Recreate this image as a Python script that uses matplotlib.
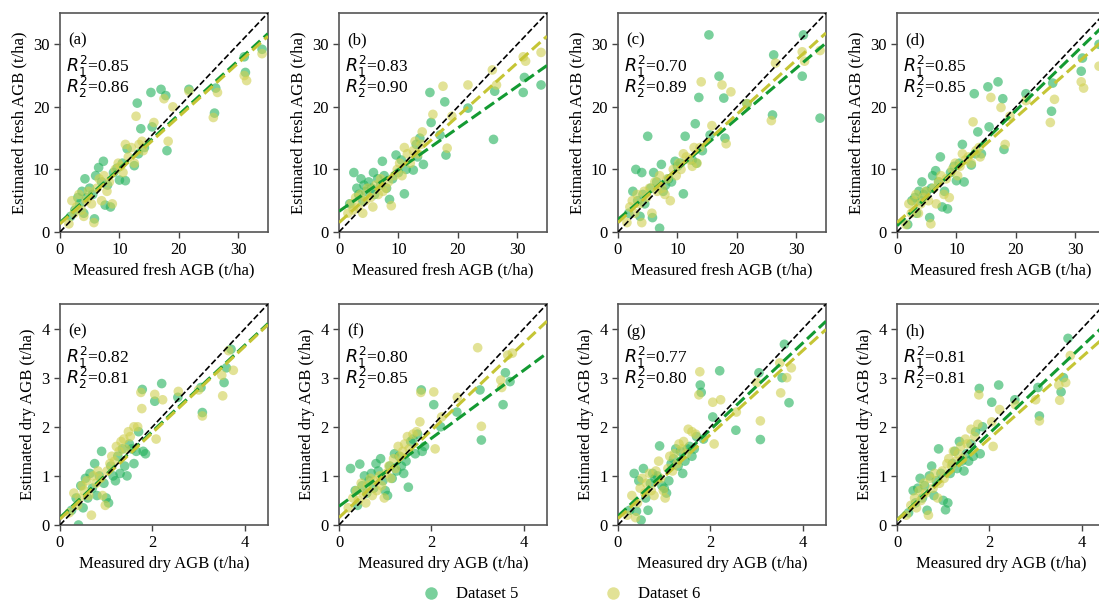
import numpy as np
import matplotlib
matplotlib.use('Agg')
import matplotlib.pyplot as plt
from matplotlib.lines import Line2D

# Valores medidos (t/ha) - mesmos para os paineis (a)-(d) e (e)-(h)
medidoFresco5 = [13.0, 15.3, 17.0, 17.8, 18.0, 21.7, 26.0, 26.2, 31.0, 31.2, 34.0, 15.5, 13.6, 14.2,
                 1.8, 2.5, 3.0, 3.3, 3.7, 4.0, 4.2, 4.5, 5.0, 5.5, 5.8, 6.0, 6.5, 7.0, 7.3, 7.6,
                 8.0, 8.5, 9.0, 9.6, 10.0, 10.5, 11.0, 11.3, 12.5, 13.2]
medidoFresco6 = [12.8, 13.3, 15.8, 17.5, 18.2, 19.0, 21.7, 25.8, 26.5, 31.0, 31.4, 34.0, 14.0, 11.0,
                 1.5, 2.0, 2.4, 2.8, 3.2, 3.6, 4.0, 4.4, 4.8, 5.3, 5.7, 6.2, 6.6, 7.0, 7.4, 7.9,
                 8.3, 8.8, 9.3, 9.8, 10.2, 10.6, 11.5, 12.0, 12.5, 13.8]
medidoSeco5 = [3.70, 3.60, 3.55, 3.08, 3.05, 2.20, 2.05, 2.55, 1.78, 1.80, 1.70, 1.85, 1.55,
               0.25, 0.35, 0.40, 0.45, 0.50, 0.55, 0.60, 0.65, 0.70, 0.75, 0.80, 0.85, 0.90, 0.95,
               1.00, 1.05, 1.10, 1.15, 1.20, 1.25, 1.30, 1.35, 1.40, 1.45, 1.50, 1.60, 1.65]
medidoSeco6 = [3.75, 3.65, 3.52, 3.50, 3.08, 3.00, 2.56, 2.05, 2.22, 1.77, 1.75, 2.08, 1.60,
               0.20, 0.30, 0.38, 0.42, 0.48, 0.52, 0.58, 0.62, 0.68, 0.72, 0.78, 0.82, 0.88, 0.92,
               0.98, 1.02, 1.08, 1.12, 1.18, 1.22, 1.28, 1.32, 1.38, 1.42, 1.48, 1.52, 1.68]

# Valores estimados por painel
estimadoA5 = [20.6, 22.3, 22.8, 21.8, 13.0, 22.8, 19.0, 23.0, 28.0, 25.5, 29.2, 16.8, 16.5, 13.5,
              2.5, 3.5, 5.5, 4.5, 6.5, 3.0, 8.5, 5.5, 7.0, 6.0, 2.1, 9.0, 10.3, 8.0, 11.3, 4.3,
              7.5, 4.0, 9.5, 10.2, 8.3, 11.0, 8.2, 13.3, 10.6, 12.5]
estimadoA6 = [18.5, 14.0, 17.5, 21.3, 14.5, 20.0, 22.5, 18.3, 22.3, 25.0, 24.2, 28.5, 13.0, 14.0,
              1.3, 5.0, 3.0, 4.0, 6.0, 3.5, 2.5, 5.0, 6.5, 4.5, 1.5, 7.0, 8.5, 5.0, 9.0, 6.5,
              8.0, 4.5, 10.0, 11.0, 10.5, 9.5, 12.0, 13.5, 11.0, 14.5]
estimadoB5 = [14.0, 22.3, 15.5, 20.8, 12.3, 19.8, 14.8, 22.5, 22.3, 24.7, 23.5, 17.5, 15.0, 10.8,
              4.5, 9.5, 7.0, 6.0, 8.5, 5.0, 7.5, 6.5, 8.0, 7.0, 9.5, 6.0, 8.5, 7.5, 11.3, 9.0,
              7.0, 5.2, 8.5, 12.3, 9.5, 11.5, 6.1, 10.0, 9.9, 12.0]
estimadoB6 = [14.5, 12.5, 18.8, 23.3, 13.4, 18.5, 23.5, 25.9, 23.5, 28.0, 27.3, 28.7, 16.0, 13.5,
              3.0, 4.5, 3.5, 5.5, 4.0, 6.0, 3.0, 5.0, 7.0, 5.5, 4.0, 7.5, 6.0, 8.5, 6.5, 7.0,
              8.0, 4.2, 9.0, 10.0, 11.0, 9.0, 12.5, 11.0, 13.0, 14.0]
estimadoC5 = [17.3, 31.5, 24.9, 21.4, 15.0, 20.5, 18.7, 28.3, 24.9, 31.5, 18.2, 15.5, 21.5, 13.0,
              3.0, 6.5, 10.0, 5.0, 2.5, 9.5, 6.0, 4.5, 15.3, 7.0, 2.3, 9.5, 8.0, 0.6, 10.8, 6.5,
              7.5, 8.5, 8.0, 11.3, 10.5, 11.0, 6.1, 15.3, 11.5, 11.0]
estimadoC6 = [13.5, 11.0, 17.0, 23.5, 14.1, 22.4, 20.5, 17.8, 27.0, 28.8, 27.3, 29.0, 24.0, 12.5,
              1.5, 4.0, 5.0, 3.0, 6.0, 4.5, 1.5, 6.5, 5.5, 7.0, 3.0, 8.0, 6.5, 9.0, 7.0, 6.0,
              8.5, 5.0, 10.0, 9.0, 11.0, 10.0, 12.0, 11.5, 10.5, 13.5]
estimadoD5 = [22.1, 23.2, 24.0, 21.3, 13.2, 22.1, 19.3, 23.8, 25.7, 27.8, 30.0, 16.8, 16.0, 12.5,
              1.2, 5.0, 5.5, 3.0, 6.5, 5.0, 8.0, 6.0, 6.5, 2.3, 7.0, 9.0, 9.8, 8.0, 12.0, 4.0,
              6.5, 3.7, 9.5, 10.5, 8.2, 11.0, 14.0, 8.0, 10.7, 12.5]
estimadoD6 = [17.6, 13.0, 21.5, 19.9, 14.0, 18.5, 21.0, 17.5, 21.2, 24.0, 23.0, 26.5, 12.0, 12.5,
              1.2, 4.5, 3.0, 5.0, 6.0, 3.0, 4.5, 5.5, 6.5, 5.0, 1.3, 7.0, 4.5, 8.0, 9.0, 6.0,
              8.5, 5.5, 10.0, 11.0, 9.0, 10.5, 11.5, 12.0, 11.0, 13.5]
estimadoE5 = [3.58, 3.20, 2.90, 2.29, 2.80, 2.88, 2.52, 2.60, 2.76, 1.50, 1.90, 1.45, 1.55,
              0.30, 0.55, 0.00, 0.80, 0.35, 0.95, 0.55, 1.05, 0.75, 1.25, 0.60, 1.00, 1.50, 0.85,
              0.55, 0.45, 1.20, 1.00, 0.90, 1.40, 1.05, 1.55, 1.20, 1.00, 1.65, 1.25, 1.50]
estimadoE6 = [3.15, 3.55, 2.63, 3.05, 2.22, 2.75, 2.72, 2.66, 2.55, 2.37, 2.70, 1.75, 2.00,
              0.25, 0.65, 0.40, 0.55, 0.80, 0.70, 0.90, 0.60, 0.20, 1.00, 0.85, 1.10, 0.95, 0.60,
              0.40, 1.10, 1.25, 1.40, 1.30, 1.60, 1.50, 1.70, 1.75, 1.55, 1.90, 1.80, 2.00]
estimadoF5 = [2.92, 3.10, 2.45, 1.73, 2.75, 2.00, 2.45, 2.30, 2.75, 1.50, 1.85, 1.60, 1.70,
              1.15, 0.70, 0.40, 1.24, 0.80, 1.00, 0.65, 0.90, 1.05, 0.75, 1.25, 1.10, 1.35, 0.90,
              0.70, 0.60, 1.20, 0.95, 1.45, 1.10, 1.40, 1.20, 1.05, 1.30, 0.77, 1.75, 1.45]
estimadoF6 = [3.50, 3.46, 2.80, 2.95, 2.01, 3.61, 2.60, 2.71, 2.20, 2.70, 2.10, 1.55, 1.85,
              0.35, 0.55, 0.70, 0.50, 0.85, 0.65, 0.45, 0.80, 0.95, 0.60, 0.90, 0.70, 1.00, 0.80,
              0.55, 1.05, 1.20, 0.95, 1.35, 1.15, 1.60, 1.40, 1.50, 1.65, 1.80, 1.55, 1.90]
estimadoG5 = [2.49, 3.68, 3.00, 1.74, 3.10, 3.14, 2.20, 1.93, 2.85, 2.70, 1.80, 1.75, 1.60,
              0.30, 1.05, 0.28, 0.90, 0.10, 1.15, 0.55, 0.30, 0.85, 1.05, 0.95, 1.00, 1.61, 0.80,
              0.75, 0.65, 0.90, 1.25, 1.35, 1.55, 1.20, 1.50, 1.05, 1.30, 1.55, 1.40, 1.55]
estimadoG6 = [3.20, 3.00, 2.69, 3.30, 2.12, 2.90, 2.30, 2.50, 2.55, 3.12, 2.65, 1.65, 1.90,
              0.20, 0.60, 0.15, 0.45, 0.75, 0.95, 0.65, 0.85, 1.05, 0.70, 0.60, 1.10, 1.30, 0.95,
              0.70, 0.55, 1.15, 1.40, 1.10, 1.45, 1.25, 1.65, 1.55, 1.70, 1.45, 1.95, 1.85]
estimadoH5 = [3.80, 3.00, 2.71, 2.22, 2.80, 2.85, 2.50, 2.55, 2.78, 1.45, 1.90, 2.00, 1.30,
              0.25, 0.70, 0.45, 0.75, 0.95, 0.55, 0.80, 0.30, 1.00, 1.20, 0.60, 0.90, 1.55, 1.05,
              0.50, 0.31, 0.45, 1.05, 1.25, 1.50, 1.15, 1.70, 1.30, 1.10, 1.45, 1.65, 1.40]
estimadoH6 = [3.45, 2.90, 2.54, 2.85, 2.12, 2.55, 2.45, 2.10, 2.35, 2.65, 2.05, 1.60, 1.95,
              0.20, 0.40, 0.55, 0.35, 0.70, 0.50, 0.85, 0.65, 0.20, 0.95, 0.75, 1.05, 0.55, 0.85,
              1.10, 0.95, 1.25, 1.35, 1.20, 1.50, 1.30, 1.45, 1.60, 1.35, 1.75, 1.65, 1.80]

# Retas de ajuste (a)-(h)
intercepto5 = [1.5, 3.3, 2.0, 1.0, 0.15, 0.38, 0.18, 0.10]
inclinacao5 = [0.863, 0.666, 0.806, 0.92, 0.878, 0.693, 0.882, 0.884]
intercepto6 = [1.3, 1.5, 1.5, 1.5, 0.12, 0.15, 0.13, 0.10]
inclinacao6 = [0.857, 0.851, 0.866, 0.84, 0.88, 0.889, 0.856, 0.83]

r2Dataset5 = [0.85, 0.83, 0.70, 0.85, 0.82, 0.80, 0.77, 0.81]
r2Dataset6 = [0.86, 0.90, 0.89, 0.85, 0.81, 0.85, 0.80, 0.81]
rotulosPainel = ['(a)', '(b)', '(c)', '(d)', '(e)', '(f)', '(g)', '(h)']
rotulosSerie = ['Dataset 5', 'Dataset 6']

COR5 = '#22b15b'
COR6 = '#d0d051'
LINHA5 = '#139a32'
LINHA6 = '#c5c535'

plt.rcParams['font.family'] = ['Liberation Serif', 'DejaVu Serif']
plt.rcParams['mathtext.fontset'] = 'dejavusans'


def desenharPainel(ax, idx, x5, y5, x6, y6, limite, ticksX, ticksY, tipo):
    """Desenha um painel de dispersao medido x estimado"""
    ax.scatter(x5, y5, s=48, color=COR5, alpha=0.6, edgecolors='none', zorder=2)
    ax.scatter(x6, y6, s=48, color=COR6, alpha=0.6, edgecolors='none', zorder=2)

    xs = np.array([0, limite])
    ax.plot(xs, intercepto5[idx] + inclinacao5[idx] * xs, color=LINHA5, lw=2.2, ls='--', zorder=3)
    ax.plot(xs, intercepto6[idx] + inclinacao6[idx] * xs, color=LINHA6, lw=2.2, ls='--', zorder=3)
    ax.plot(xs, xs, color='black', lw=1.2, ls='--', zorder=4)

    ax.set_xlim(0, limite)
    ax.set_ylim(0, limite)
    ax.set_xticks(ticksX)
    ax.set_yticks(ticksY)
    ax.tick_params(labelsize=12, length=4, width=1, color='#444444')
    for spine in ax.spines.values():
        spine.set_color('#555555')
        spine.set_linewidth(1.2)

    ax.set_xlabel(f'Measured {tipo} AGB (t/ha)', fontsize=12, labelpad=3)
    ax.set_ylabel(f'Estimated {tipo} AGB (t/ha)', fontsize=12, labelpad=4)

    ax.text(0.04, 0.875, rotulosPainel[idx], transform=ax.transAxes, fontsize=12, va='center')
    # as duas linhas de R2 num so texto, bem juntas como no original
    textoR2 = (r'$R_1^2$' + f'={r2Dataset5[idx]:.2f}\n' +
               r'$R_2^2$' + f'={r2Dataset6[idx]:.2f}')
    ax.text(0.03, 0.71, textoR2, transform=ax.transAxes, fontsize=12.5, va='center',
            linespacing=0.78)


def main():
    fig = plt.figure(figsize=(10.99, 6.04), dpi=100)
    esquerdas = [60, 339, 618, 897]
    larguraPx = 208

    frescos = [(estimadoA5, estimadoA6), (estimadoB5, estimadoB6),
               (estimadoC5, estimadoC6), (estimadoD5, estimadoD6)]
    secos = [(estimadoE5, estimadoE6), (estimadoF5, estimadoF6),
             (estimadoG5, estimadoG6), (estimadoH5, estimadoH6)]

    for i, esq in enumerate(esquerdas):
        ax = fig.add_axes([esq / 1099, 372 / 604, larguraPx / 1099, 219 / 604])
        desenharPainel(ax, i, medidoFresco5, frescos[i][0], medidoFresco6, frescos[i][1],
                       35, [0, 10, 20, 30], [0, 10, 20, 30], 'fresh')

        ax = fig.add_axes([esq / 1099, 79 / 604, larguraPx / 1099, 221 / 604])
        desenharPainel(ax, i + 4, medidoSeco5, secos[i][0], medidoSeco6, secos[i][1],
                       4.5, [0, 2, 4], [0, 1, 2, 3, 4], 'dry')

    marcadores = [
        Line2D([], [], marker='o', ls='', color=COR5, alpha=0.6, markersize=9, markeredgewidth=0,
               label=rotulosSerie[0]),
        Line2D([], [], marker='o', ls='', color=COR6, alpha=0.6, markersize=9, markeredgewidth=0,
               label=rotulosSerie[1]),
    ]
    fig.legend(handles=marcadores, loc='center', bbox_to_anchor=(0.507, 0.016), ncol=2,
               frameon=False, fontsize=12, columnspacing=4.7, handletextpad=0.5)

    fig.savefig('out.png', dpi=100)


if __name__ == '__main__':
    main()
